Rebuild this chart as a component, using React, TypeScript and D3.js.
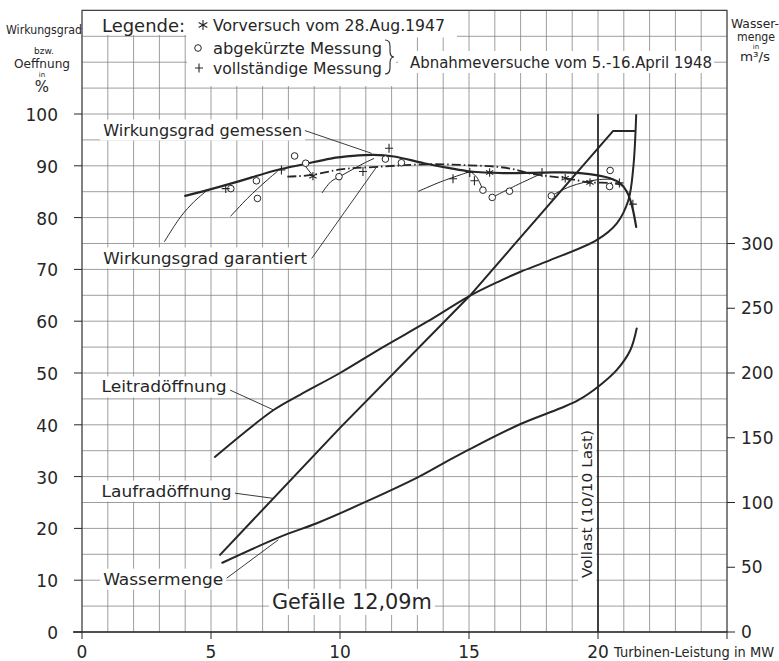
import * as d3 from 'd3';
import { useEffect, useRef } from 'react';

const WIDTH = 779;
const HEIGHT = 661;
const FRAME = { left: 82, right: 727, top: 10.4, bottom: 632 };
const FONT = '"DejaVu Sans", "Liberation Sans", sans-serif';
const INK = '#262626';
const GRID = '#858585';

type Pt = [number, number];

// axis ticks
const mwTicks = [0, 5, 10, 15, 20];
const pctTicks = [0, 10, 20, 30, 40, 50, 60, 70, 80, 90, 100];
const flowTicks = [0, 50, 100, 150, 200, 250, 300];

// [MW, % Oeffnung]
const leitrad: Pt[] = [
    [5.15, 33.8], [7.44, 42.9], [8.45, 45.8], [10.0, 50.0], [11.7, 55.1], [13.38, 59.9],
    [15.03, 64.9], [16.21, 67.8], [17.02, 69.6], [18.15, 71.8], [19.96, 75.7], [20.73, 78.9],
    [21.18, 83.4], [21.37, 89.8], [21.48, 99.8],
];
const laufrad: Pt[] = [
    [5.35, 14.9], [10.0, 39.4], [15.03, 64.9], [20.58, 96.7], [21.44, 96.7],
];
// [MW, m3/s] -> right axis
const wassermenge: Pt[] = [
    [5.44, 53.5], [7.7, 73.6], [9.1, 84.0], [11.03, 100.8], [13.03, 119.6], [14.02, 130.4],
    [15.03, 141.2], [17.02, 160.8], [18.54, 172.8], [19.25, 179.2], [20.09, 190.8],
    [20.73, 202.4], [21.25, 217.6], [21.5, 234.4],
];
// [MW, % Wirkungsgrad]
const wirkGemessen: Pt[] = [
    [4.0, 84.2], [4.86, 85.3], [6.0, 86.9], [7.57, 89.2], [8.6, 90.3], [9.64, 91.4], [10.5, 91.9],
    [11.3, 92.1], [12.09, 91.8], [13.25, 90.5], [14.2, 89.6], [15.05, 88.9], [16.34, 88.6],
    [17.9, 88.7], [19.31, 88.6], [20.47, 87.6], [20.86, 86.6], [21.12, 85.0], [21.31, 82.4],
    [21.48, 78.2],
];
const wirkGarantiert: Pt[] = [
    [7.96, 87.9], [8.86, 88.2], [10.02, 89.3], [11.44, 89.8], [13.5, 90.3], [15.0, 90.1],
    [16.1, 89.8], [16.86, 89.2], [17.37, 88.5], [18.73, 87.6], [19.69, 86.8], [20.4, 86.7],
    [20.9, 86.4],
];
// einzelne Messkurven (duenn)
const einzelKurven: Pt[][] = [
    [[3.2, 75.4], [3.83, 80.2], [4.35, 83.1], [4.86, 85.3]],
    [[5.77, 80.3], [6.41, 83.7], [7.19, 87.3], [7.57, 88.9]],
    [[8.6, 90.3], [8.93, 88.2]],
    [[9.31, 84.8], [9.64, 86.9], [10.02, 88.0], [10.93, 90.5], [11.31, 91.4]],
    [[13.05, 85.1], [13.9, 86.9], [15.05, 88.9]],
    [[15.05, 88.9], [15.3, 87.8], [15.54, 85.3]],
    [[15.9, 83.9], [16.86, 86.3], [17.9, 88.7]],
    [[18.19, 84.2], [18.92, 86.0], [19.96, 87.3], [20.6, 87.4]],
];
// Messpunkte
const ptsAbgekuerzt: Pt[] = [
    [5.77, 85.6], [6.76, 87.1], [6.8, 83.7], [8.24, 91.9], [8.67, 90.5], [9.96, 87.9],
    [11.76, 91.3], [12.38, 90.6], [15.54, 85.3], [15.9, 83.9], [16.57, 85.1], [18.19, 84.2],
    [20.47, 89.1], [20.45, 86.0],
];
const ptsVollstaendig: Pt[] = [
    [5.57, 85.6], [7.73, 89.2], [10.89, 88.9], [11.9, 93.4], [14.38, 87.5], [15.03, 88.7],
    [15.21, 87.1], [17.83, 88.7], [20.83, 86.7], [21.35, 82.6],
];
const ptsVorversuch: Pt[] = [[8.95, 88.0], [15.8, 88.7], [18.73, 87.6], [19.69, 86.8]];

// labels with leader lines, positions in [MW, %]
const curveLabels = [
    { text: 'Wirkungsgrad gemessen', at: [0.82, 96.9], size: 16, len: 199, lead: [[8.64, 96.8], [11.23, 92.4]] },
    { text: 'Wirkungsgrad garantiert', at: [0.82, 72.2], size: 16, len: 204, lead: [[8.9, 72.1], [11.42, 89.8]] },
    { text: 'Leitradöffnung', at: [0.76, 47.3], size: 16, len: 125, lead: [[5.74, 46.7], [7.41, 42.9]] },
    { text: 'Laufradöffnung', at: [0.76, 27.2], size: 16, len: 130, lead: [[5.93, 26.8], [7.41, 25.8]] },
    { text: 'Wassermenge', at: [0.82, 10.2], size: 16, len: 120, lead: [[5.61, 10.4], [7.61, 17.8]] },
    { text: 'Gefälle 12,09m', at: [7.36, 5.8], size: 21, len: 160, lead: null },
];

function addText(g: any, str: string, px: number, py: number, size: number, len?: number, anchor = 'start') {
    const t = g.append('text')
        .attr('x', px).attr('y', py)
        .attr('font-size', size)
        .attr('font-family', FONT)
        .attr('fill', INK)
        .attr('dominant-baseline', 'central')
        .attr('text-anchor', anchor)
        .text(str);
    if (len) t.attr('textLength', len).attr('lengthAdjust', 'spacingAndGlyphs');
    return t;
}

function circleMark(g: any, px: number, py: number) {
    g.append('circle').attr('cx', px).attr('cy', py).attr('r', 3.3)
        .attr('fill', '#fff').attr('stroke', INK).attr('stroke-width', 1);
}
function crossMark(g: any, px: number, py: number) {
    g.append('path').attr('d', `M${px - 4},${py}H${px + 4}M${px},${py - 4.5}V${py + 4.5}`)
        .attr('stroke', INK).attr('stroke-width', 1.1).attr('fill', 'none');
}
function starMark(g: any, px: number, py: number, r = 4.2) {
    const d = [90, 30, -30].map((a) => {
        const rad = (a * Math.PI) / 180;
        const dx = r * Math.cos(rad), dy = r * Math.sin(rad);
        return `M${px - dx},${py - dy}L${px + dx},${py + dy}`;
    }).join('');
    g.append('path').attr('d', d).attr('stroke', INK).attr('stroke-width', 1.1).attr('fill', 'none');
}

const KennlinienChart = () => {
    const svgRef = useRef<SVGSVGElement>(null);

    useEffect(() => {
        const svg = d3.select(svgRef.current);
        svg.selectAll('*').remove();

        const x = d3.scaleLinear().domain([0, 25]).range([FRAME.left, FRAME.right]);
        const y = d3.scaleLinear().domain([0, 120]).range([FRAME.bottom, FRAME.top]);
        const yQ = d3.scaleLinear().domain([0, 480]).range([FRAME.bottom, FRAME.top]);

        svg.append('rect').attr('width', WIDTH).attr('height', HEIGHT).attr('fill', '#fff');

        // grid
        const grid = svg.append('g').attr('stroke', GRID).attr('stroke-width', 0.8);
        d3.range(0, 26).forEach((v) => {
            grid.append('line').attr('x1', x(v)).attr('x2', x(v)).attr('y1', y(0)).attr('y2', y(120));
        });
        d3.range(0, 121, 5).forEach((v) => {
            grid.append('line').attr('x1', x(0)).attr('x2', x(25)).attr('y1', y(v)).attr('y2', y(v));
        });
        // frame
        svg.append('path')
            .attr('d', `M${x(0)},${y(0)}V${y(120)}H${x(25)}V${y(0)}`)
            .attr('fill', 'none').attr('stroke', '#444').attr('stroke-width', 1.1);

        const boxes = svg.append('g').attr('fill', '#fff');
        // legend knockouts
        [
            [84, 11, 373, 24],
            [186, 11, 271, 26.5],
            [187, 37, 209, 49],
            [398, 51, 316, 22],
        ].forEach(([bx, by, bw, bh]) => {
            boxes.append('rect').attr('x', bx).attr('y', by).attr('width', bw).attr('height', bh);
        });

        // axes
        const axes = svg.append('g').attr('stroke', INK).attr('fill', 'none');
        axes.append('line').attr('x1', x(0) - 9).attr('x2', x(25)).attr('y1', y(0)).attr('y2', y(0)).attr('stroke-width', 1.4);
        pctTicks.forEach((v) => {
            axes.append('line').attr('x1', x(0) - 8).attr('x2', x(0)).attr('y1', y(v)).attr('y2', y(v)).attr('stroke-width', 1);
        });
        [...mwTicks, 25].forEach((v) => {
            axes.append('line').attr('x1', x(v)).attr('x2', x(v)).attr('y1', y(0)).attr('y2', y(0) + 7).attr('stroke-width', 1);
        });
        flowTicks.forEach((v) => {
            axes.append('line').attr('x1', x(25)).attr('x2', x(25) + 8).attr('y1', yQ(v)).attr('y2', yQ(v)).attr('stroke-width', 1);
        });
        // Vollast
        axes.append('line').attr('x1', x(20)).attr('x2', x(20)).attr('y1', y(0)).attr('y2', y(100)).attr('stroke-width', 1.7);

        const smooth = d3.line<Pt>().x((d) => x(d[0])).y((d) => y(d[1])).curve(d3.curveCatmullRom.alpha(0.5));
        const straight = d3.line<Pt>().x((d) => x(d[0])).y((d) => y(d[1]));
        const smoothQ = d3.line<Pt>().x((d) => x(d[0])).y((d) => yQ(d[1])).curve(d3.curveCatmullRom.alpha(0.5));

        const curves = svg.append('g').attr('fill', 'none').attr('stroke', INK).attr('stroke-linecap', 'round');
        curves.append('path').attr('d', smooth(leitrad)).attr('stroke-width', 2);
        curves.append('path').attr('d', straight(laufrad)).attr('stroke-width', 2).attr('stroke-linejoin', 'round');
        curves.append('path').attr('d', smoothQ(wassermenge)).attr('stroke-width', 2);
        einzelKurven.forEach((k) => {
            curves.append('path').attr('d', smooth(k)).attr('stroke-width', 1);
        });
        curves.append('path').attr('d', smooth(wirkGarantiert)).attr('stroke-width', 1.8)
            .attr('stroke-dasharray', '9,3,1.5,3').attr('stroke-linecap', 'butt');
        curves.append('path').attr('d', smooth(wirkGemessen)).attr('stroke-width', 2.2);

        const marks = svg.append('g');
        ptsAbgekuerzt.forEach((p) => circleMark(marks, x(p[0]), y(p[1])));
        ptsVollstaendig.forEach((p) => crossMark(marks, x(p[0]), y(p[1])));
        ptsVorversuch.forEach((p) => starMark(marks, x(p[0]), y(p[1])));

        // labels
        const labels = svg.append('g');
        curveLabels.forEach((l) => {
            const t = addText(labels, l.text, x(l.at[0]), y(l.at[1]), l.size, l.len);
            const b = t.node().getBBox();
            boxes.append('rect').attr('x', b.x - 3).attr('y', b.y - 1)
                .attr('width', b.width + 6).attr('height', b.height + 2);
            if (l.lead) {
                labels.append('line')
                    .attr('x1', x(l.lead[0][0])).attr('y1', y(l.lead[0][1]))
                    .attr('x2', x(l.lead[1][0])).attr('y2', y(l.lead[1][1]))
                    .attr('stroke', INK).attr('stroke-width', 0.9);
            }
        });
        const voll = labels.append('g').attr('transform', `translate(${x(19.58)},${y(24.7)}) rotate(-90)`);
        voll.append('rect').attr('x', -77).attr('y', -9).attr('width', 154).attr('height', 18).attr('fill', '#fff');
        addText(voll, 'Vollast (10/10 Last)', 0, 0, 14.5, 148, 'middle');

        // tick labels
        pctTicks.forEach((v) => addText(labels, String(v), 58, y(v) + 1, 17, undefined, 'end'));
        mwTicks.forEach((v) => addText(labels, String(v), x(v), 652, 17, undefined, 'middle'));
        flowTicks.forEach((v) => addText(labels, String(v), 741, yQ(v), 17));
        addText(labels, 'Turbinen-Leistung in MW', 614, 652, 13.5, 160);

        // axis titles
        addText(labels, 'Wirkungsgrad', 6, 29, 12.5, 76);
        addText(labels, 'bzw.', 44, 51, 9, undefined, 'middle');
        addText(labels, 'Oeffnung', 42, 63, 12.5, 56, 'middle');
        addText(labels, 'in', 42, 74.5, 7, undefined, 'middle');
        addText(labels, '%', 42, 87, 15, undefined, 'middle');
        addText(labels, 'Wasser-', 731, 24, 12, 48);
        addText(labels, 'menge', 756, 37, 12, 38, 'middle');
        addText(labels, 'in', 756, 47, 7, undefined, 'middle');
        addText(labels, 'm³/s', 755, 57, 12, 30, 'middle');

        // legend
        addText(labels, 'Legende:', 102, 25, 18, 83);
        starMark(labels, 203, 25, 5);
        addText(labels, 'Vorversuch vom 28.Aug.1947', 213, 25, 16, 232);
        circleMark(labels, 198, 48);
        addText(labels, 'abgekürzte Messung', 213, 48, 16, 169);
        crossMark(labels, 199, 68);
        addText(labels, 'vollständige Messung', 213, 68, 16, 169);
        labels.append('path')
            .attr('d', 'M385,40q5,0 5,6v5q0,6 4,6q-4,0 -4,6v5q0,6 -5,6')
            .attr('fill', 'none').attr('stroke', INK).attr('stroke-width', 1.1);
        addText(labels, 'Abnahmeversuche vom 5.-16.April 1948', 410, 62, 16, 302);
    }, []);

    return (
        <div style={{ position: 'absolute', left: 0, top: 0 }}>
            <svg ref={svgRef} width={WIDTH} height={HEIGHT} style={{ display: 'block' }} />
        </div>
    );
};

export default function App() {
    return <KennlinienChart />;
}
